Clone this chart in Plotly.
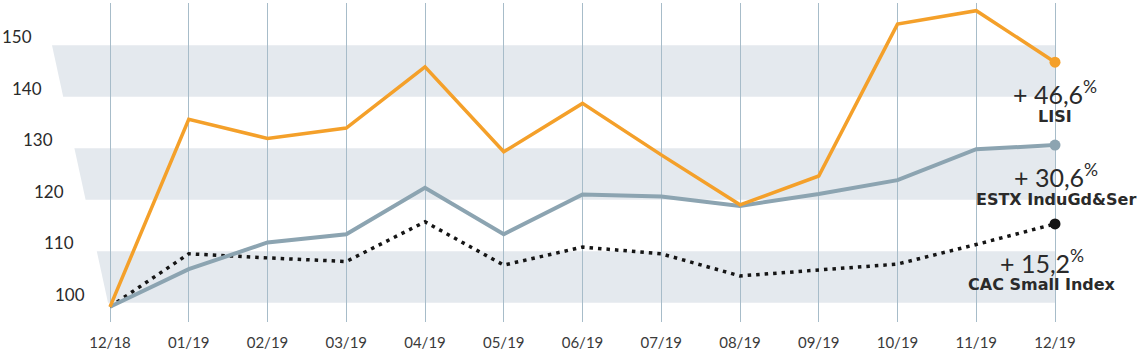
import plotly.graph_objects as go

months = ["12/18", "01/19", "02/19", "03/19", "04/19", "05/19", "06/19",
          "07/19", "08/19", "09/19", "10/19", "11/19", "12/19"]
lisi = [99.2, 135.6, 131.9, 133.9, 145.8, 129.3, 138.7, 128.7, 119.0, 124.6, 154.1, 156.7, 146.7]
estx = [99.2, 106.5, 111.7, 113.3, 122.3, 113.3, 121.0, 120.6, 118.8, 121.1, 123.8, 129.8, 130.6]
cac = [99.2, 109.5, 108.7, 108.0, 115.7, 107.3, 110.8, 109.5, 105.2, 106.3, 107.5, 111.3, 115.3]
series_names = ["LISI", "ESTX InduGd&Ser", "CAC Small Index"]
pct_labels = ["+ 46,6", "+ 30,6", "+ 15,2"]
y_ticks = [100, 110, 120, 130, 140, 150]
bands = [(100, 110), (120, 130), (140, 150)]

ORANGE = "#F4A02A"
GREY = "#8CA4B1"
BLACK = "#151515"
BAND = "#E4E9EE"
GRID = "#A7BCC9"
TEXT = "#2A2A2A"

x = list(range(len(months)))

fig = go.Figure()

fig.add_trace(go.Scatter(x=x, y=cac, mode="lines",
                         line=dict(color=BLACK, width=3.5, dash="3.5px,5px"),
                         hoverinfo="skip"))
fig.add_trace(go.Scatter(x=x, y=estx, mode="lines",
                         line=dict(color=GREY, width=4), hoverinfo="skip"))
fig.add_trace(go.Scatter(x=x, y=lisi, mode="lines",
                         line=dict(color=ORANGE, width=3.5), hoverinfo="skip"))
for ser, col in [(cac, BLACK), (estx, GREY), (lisi, ORANGE)]:
    fig.add_trace(go.Scatter(x=[x[-1]], y=[ser[-1]], mode="markers",
                             marker=dict(color=col, size=11), hoverinfo="skip"))

# slanted left edge of bands: pixel offset per unit value
PX_PER_X = 78.75
def edge_x(v):
    return (-2 - 1.12 * (v - 100)) / PX_PER_X

shapes = []
for lo, hi in bands:
    path = (f"M {edge_x(hi)},{hi} L {x[-1]},{hi} L {x[-1]},{lo} "
            f"L {edge_x(lo)},{lo} Z")
    shapes.append(dict(type="path", path=path, fillcolor=BAND,
                       line=dict(width=0), layer="below",
                       xref="x", yref="y"))

annotations = []
for v in y_ticks:
    annotations.append(dict(
        x=(-23 - 1.07 * (v - 100)) / PX_PER_X, y=v, xref="x", yref="y",
        text=str(v), showarrow=False, xanchor="right", yanchor="bottom",
        yshift=-4,
        font=dict(family="Lato", size=17, color=TEXT)))

offsets = [(0, -30, -54), (1, -30, -54), (-13, -38, -61)]
for ser, name, pct, (dx, dy1, dy2) in zip([lisi, estx, cac], series_names,
                                          pct_labels, offsets):
    annotations.append(dict(
        x=x[-1], y=ser[-1], xref="x", yref="y",
        text=pct + "<sup>%</sup>", showarrow=False,
        xanchor="center", yanchor="middle", xshift=dx, yshift=dy1,
        font=dict(family="Lato", size=25, color=TEXT)))
    annotations.append(dict(
        x=x[-1], y=ser[-1], xref="x", yref="y",
        text="<b>" + name + "</b>", showarrow=False,
        xanchor="center", yanchor="middle", xshift=dx, yshift=dy2,
        font=dict(family="DejaVu Sans", size=16, color=TEXT)))

x_min = -110 / PX_PER_X
x_max = x_min + 1139 / PX_PER_X
scale = 5.15
y_top = 100 + (302.7 - 3) / scale
y_bot = 100 + (302.7 - 322) / scale

fig.update_layout(
    width=1139, height=356,
    margin=dict(l=0, r=0, t=3, b=34),
    paper_bgcolor="white", plot_bgcolor="white",
    showlegend=False,
    shapes=shapes, annotations=annotations,
    xaxis=dict(range=[x_min, x_max], tickvals=x, ticktext=months,
               showgrid=True, gridcolor=GRID, gridwidth=1,
               zeroline=False, showline=False, ticks="",
               tickfont=dict(family="Lato", size=15, color="#3A3A3A"),
               ticklabelstandoff=10, fixedrange=True),
    yaxis=dict(range=[y_bot, y_top], showgrid=False, zeroline=False,
               showticklabels=False, showline=False, ticks="",
               fixedrange=True),
)

fig.write_html("out.html", config={"displayModeBar": False},
               post_script="document.body.style.margin='0';document.body.style.overflow='hidden';")
